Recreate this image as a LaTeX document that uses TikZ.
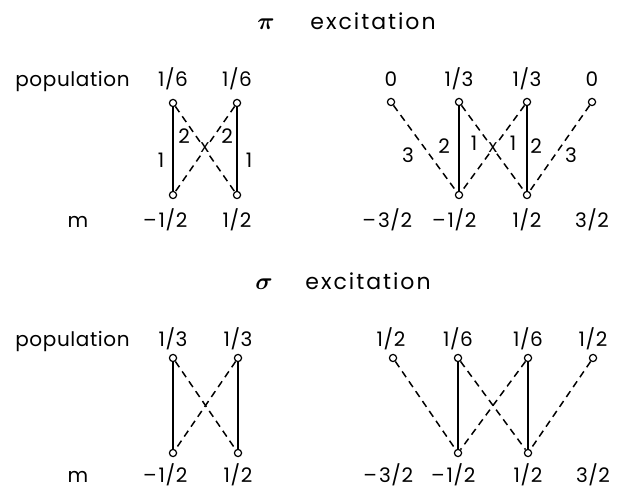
\documentclass[tikz,border=0pt]{standalone}
\usepackage{amsmath,amssymb}
\usepackage{fontspec}
\setmainfont[LetterSpace=3]{Poppins}
\newfontfamily\headfont[LetterSpace=9]{Poppins}
\begin{document}
\begin{tikzpicture}[x=0.5pt,y=-0.5pt,
  lvl/.style={circle,draw,inner sep=0pt,minimum size=3.6pt,line width=0.6pt},
  txt/.style={font=\fontsize{10}{11}\selectfont,inner sep=0pt,anchor=base},
  head/.style={font=\headfont\fontsize{11}{12}\selectfont,inner sep=0pt,anchor=base west},
  wgt/.style={font=\fontsize{10}{11}\selectfont,inner sep=0pt},
  cross/.style={font=\fontsize{9}{10}\selectfont,inner sep=0.3pt,fill=white},
  pitr/.style={line width=0.75pt},
  sigtr/.style={line width=0.75pt,dash pattern=on 3.5pt off 2.5pt}]
  \useasboundingbox (0,0) rectangle (619,490);

  % ---- pi excitation ----
  \node[font=\fontsize{12}{13}\selectfont,inner sep=0pt,anchor=base] (pihead) at (266,30) {$\boldsymbol{\pi}$};
  \node[head] (pitext) at (310,30) {excitation};
  \node[txt,anchor=base west] (pipop) at (15,87) {population};
  \node[txt] (pim) at (78,228) {m};

  % levels, left diagram
  \node[lvl] (pa1) at (173,103) {};
  \node[lvl] (pa2) at (237,103) {};
  \node[lvl] (pg1) at (173,195) {};
  \node[lvl] (pg2) at (237,195) {};
  \node[txt] at (173,87) {1/6};
  \node[txt] at (237,87) {1/6};
  \node[txt] at (173,228) {\llap{–\kern1pt}1/2};
  \node[txt] at (237,228) {1/2};
  \draw[pitr] (pa1) -- (pg1);
  \draw[pitr] (pa2) -- (pg2);
  \draw[sigtr] (pa1) -- (pg2);
  \draw[sigtr] (pa2) -- (pg1);
  \node[wgt] at (161,160) {1};
  \node[wgt] at (249,160) {1};
  \node[wgt] at (184,136) {2};
  \node[wgt] at (227,136) {2};
  \node[cross] at (205,148) {x};

  % levels, right diagram
  \node[lvl] (pb1) at (391,102) {};
  \node[lvl] (pb2) at (459,102) {};
  \node[lvl] (pb3) at (527,102) {};
  \node[lvl] (pb4) at (592,102) {};
  \node[lvl] (ph1) at (459,195) {};
  \node[lvl] (ph2) at (527,195) {};
  \node[txt] at (391,87) {0};
  \node[txt] at (459,87) {1/3};
  \node[txt] at (527,87) {1/3};
  \node[txt] at (592,87) {0};
  \node[txt] at (395,228) {\llap{–\kern1pt}3/2};
  \node[txt] at (462,228) {\llap{–\kern1pt}1/2};
  \node[txt] at (527,228) {1/2};
  \node[txt] at (592,228) {3/2};
  \draw[sigtr] (pb1) -- (ph1);
  \draw[pitr] (pb2) -- (ph1);
  \draw[sigtr] (pb2) -- (ph2);
  \draw[sigtr] (pb3) -- (ph1);
  \draw[pitr] (pb3) -- (ph2);
  \draw[sigtr] (pb4) -- (ph2);
  \node[wgt] at (408,155) {3};
  \node[wgt] at (444,146) {2};
  \node[wgt] at (474,143) {1};
  \node[wgt] at (513,143) {1};
  \node[wgt] at (536,146) {2};
  \node[wgt] at (571,155) {3};
  \node[cross] at (493,147.5) {x};

  % ---- sigma excitation ----
  \node[font=\fontsize{12}{13}\selectfont,inner sep=0pt,anchor=base] (sighead) at (264,290) {$\boldsymbol{\sigma}$};
  \node[head] (sigtext) at (305,290) {excitation};
  \node[txt,anchor=base west] (sigpop) at (15,347) {population};
  \node[txt] (sigm) at (78,482) {m};

  % levels, left diagram
  \node[lvl] (sa1) at (173,358) {};
  \node[lvl] (sa2) at (238,358) {};
  \node[lvl] (sg1) at (173,453) {};
  \node[lvl] (sg2) at (238,453) {};
  \node[txt] at (173,347) {1/3};
  \node[txt] at (238,347) {1/3};
  \node[txt] at (173,482) {\llap{–\kern1pt}1/2};
  \node[txt] at (238,482) {1/2};
  \draw[pitr] (sa1) -- (sg1);
  \draw[pitr] (sa2) -- (sg2);
  \draw[sigtr] (sa1) -- (sg2);
  \draw[sigtr] (sa2) -- (sg1);

  % levels, right diagram
  \node[lvl] (sb1) at (393,358) {};
  \node[lvl] (sb2) at (458,358) {};
  \node[lvl] (sb3) at (528,358) {};
  \node[lvl] (sb4) at (593,358) {};
  \node[lvl] (sh1) at (458,453) {};
  \node[lvl] (sh2) at (528,453) {};
  \node[txt] at (391,347) {1/2};
  \node[txt] at (458,347) {1/6};
  \node[txt] at (528,347) {1/6};
  \node[txt] at (593,347) {1/2};
  \node[txt] at (396,482) {\llap{–\kern1pt}3/2};
  \node[txt] at (461,482) {\llap{–\kern1pt}1/2};
  \node[txt] at (528,482) {1/2};
  \node[txt] at (593,482) {3/2};
  \draw[sigtr] (sb1) -- (sh1);
  \draw[pitr] (sb2) -- (sh1);
  \draw[sigtr] (sb2) -- (sh2);
  \draw[sigtr] (sb3) -- (sh1);
  \draw[pitr] (sb3) -- (sh2);
  \draw[sigtr] (sb4) -- (sh2);
\end{tikzpicture}
\end{document}
